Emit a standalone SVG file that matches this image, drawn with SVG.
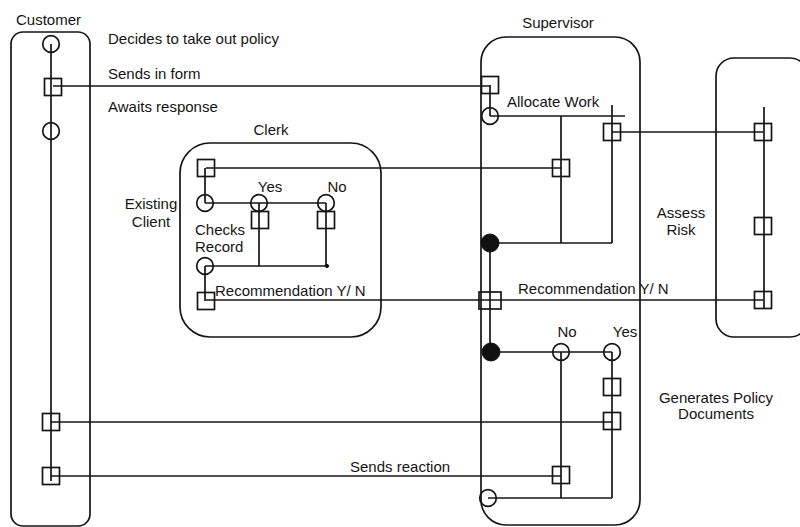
<svg xmlns="http://www.w3.org/2000/svg" width="800" height="527" viewBox="0 0 800 527">
  <style>
    .lane { fill: none; stroke: #151515; stroke-width: 1.7; }
    .sym { fill: none; stroke: #151515; stroke-width: 1.7; }
    .dot { fill: #111; stroke: #111; stroke-width: 1; }
    .ln { fill: none; stroke: #151515; stroke-width: 1.7; }
    text { font-family: "Liberation Sans", Arial, sans-serif; font-size: 15px; fill: #151515; }
    .mid { text-anchor: middle; }
  </style>
  <defs>
    <rect id="sq" x="-8.5" y="-8.5" width="17" height="17" class="sym"/>
    <circle id="st" r="8.3" class="sym"/>
    <circle id="jn" r="9" class="dot"/>
  </defs>
  <rect width="800" height="527" fill="#fff"/>

  <!-- swimlanes -->
  <g id="lane-customer">
    <rect x="11" y="32" width="79" height="494" rx="12" class="lane"/>
    <text x="16" y="25">Customer</text>
  </g>
  <g id="lane-clerk">
    <rect x="180" y="143" width="201" height="194" rx="30" class="lane"/>
    <text x="271" y="135" class="mid">Clerk</text>
  </g>
  <g id="lane-supervisor">
    <rect x="481" y="37" width="159" height="488" rx="25" class="lane"/>
    <text x="558" y="28" class="mid">Supervisor</text>
  </g>
  <g id="lane-risk">
    <rect x="716" y="58" width="92" height="279" rx="18" class="lane"/>
    <text x="681" y="218" class="mid">Assess</text>
    <text x="681" y="235" class="mid">Risk</text>
  </g>

  <!-- connectors -->
  <g id="connectors">
    <!-- customer lifeline -->
    <line x1="51" y1="44" x2="51" y2="481" class="ln"/>
    <!-- clerk -->
    <line x1="205" y1="168" x2="205" y2="203" class="ln"/>
    <line x1="205" y1="203" x2="326" y2="203" class="ln"/>
    <line x1="259" y1="203" x2="259" y2="266" class="ln"/>
    <line x1="326" y1="203" x2="326" y2="266" class="ln"/>
    <line x1="205" y1="266" x2="327" y2="266" class="ln"/>
    <line x1="205" y1="266" x2="205" y2="301" class="ln"/>
    <!-- supervisor -->
    <line x1="490" y1="85" x2="490" y2="116" class="ln"/>
    <line x1="490" y1="116" x2="625" y2="116" class="ln"/>
    <line x1="561" y1="116" x2="561" y2="243" class="ln"/>
    <line x1="612" y1="105" x2="612" y2="243" class="ln"/>
    <line x1="490" y1="243" x2="612" y2="243" class="ln"/>
    <line x1="490" y1="243" x2="490" y2="352" class="ln"/>
    <line x1="491" y1="352" x2="612" y2="352" class="ln"/>
    <line x1="561" y1="352" x2="561" y2="498" class="ln"/>
    <line x1="612" y1="352" x2="612" y2="498" class="ln"/>
    <line x1="488" y1="498" x2="612" y2="498" class="ln"/>
    <!-- risk lifeline -->
    <line x1="764" y1="107" x2="764" y2="308" class="ln"/>
    <!-- between lanes -->
    <line x1="53" y1="86" x2="490" y2="86" class="ln"/>
    <line x1="206" y1="168" x2="561" y2="168" class="ln"/>
    <line x1="612" y1="132" x2="763" y2="132" class="ln"/>
    <line x1="206" y1="300" x2="763" y2="300" class="ln"/>
    <line x1="51" y1="422" x2="612" y2="422" class="ln"/>
    <line x1="51" y1="476" x2="561" y2="476" class="ln"/>
  </g>

  <!-- customer activities -->
  <g id="customer-nodes">
    <use href="#st" x="51" y="44"/>
    <use href="#sq" x="53" y="87"/>
    <use href="#st" x="51" y="131"/>
    <use href="#sq" x="51" y="422"/>
    <use href="#sq" x="51" y="476"/>
    <text x="108" y="44">Decides to take out policy</text>
    <text x="108" y="79">Sends in form</text>
    <text x="108" y="112">Awaits response</text>
  </g>

  <!-- clerk activities -->
  <g id="clerk-nodes">
    <use href="#sq" x="206" y="168"/>
    <use href="#st" x="205" y="203"/>
    <use href="#st" x="259" y="203"/>
    <use href="#sq" x="260" y="220"/>
    <use href="#st" x="326" y="203"/>
    <use href="#sq" x="326" y="220"/>
    <circle cx="327" cy="266" r="1.6" class="dot"/>
    <use href="#st" x="205" y="266"/>
    <use href="#sq" x="206" y="301"/>
    <text x="270" y="192" class="mid">Yes</text>
    <text x="337" y="192" class="mid">No</text>
    <text x="151" y="209" class="mid">Existing</text>
    <text x="151" y="227" class="mid">Client</text>
    <text x="195" y="235">Checks</text>
    <text x="195" y="252">Record</text>
    <text x="215" y="296">Recommendation Y/ N</text>
  </g>

  <!-- supervisor activities -->
  <g id="supervisor-nodes">
    <use href="#sq" x="490" y="85"/>
    <use href="#st" x="490" y="116"/>
    <text x="507" y="107">Allocate Work</text>
    <use href="#sq" x="561" y="168"/>
    <use href="#sq" x="612" y="132"/>
    <use href="#jn" x="490" y="243"/>
    <rect x="479" y="292" width="22" height="17" class="sym"/>
    <text x="518" y="294">Recommendation Y/ N</text>
    <use href="#jn" x="491" y="352"/>
    <use href="#st" x="561" y="352"/>
    <use href="#st" x="612" y="352"/>
    <text x="567" y="337" class="mid">No</text>
    <text x="625" y="337" class="mid">Yes</text>
    <use href="#sq" x="612" y="387"/>
    <use href="#sq" x="612" y="421"/>
    <use href="#sq" x="561" y="475"/>
    <use href="#st" x="488" y="498"/>
    <text x="716" y="403" class="mid">Generates Policy</text>
    <text x="716" y="419" class="mid">Documents</text>
    <text x="350" y="472">Sends reaction</text>
  </g>

  <!-- risk activities -->
  <g id="risk-nodes">
    <use href="#sq" x="763" y="132"/>
    <use href="#sq" x="763" y="226"/>
    <use href="#sq" x="763" y="300"/>
  </g>
</svg>
